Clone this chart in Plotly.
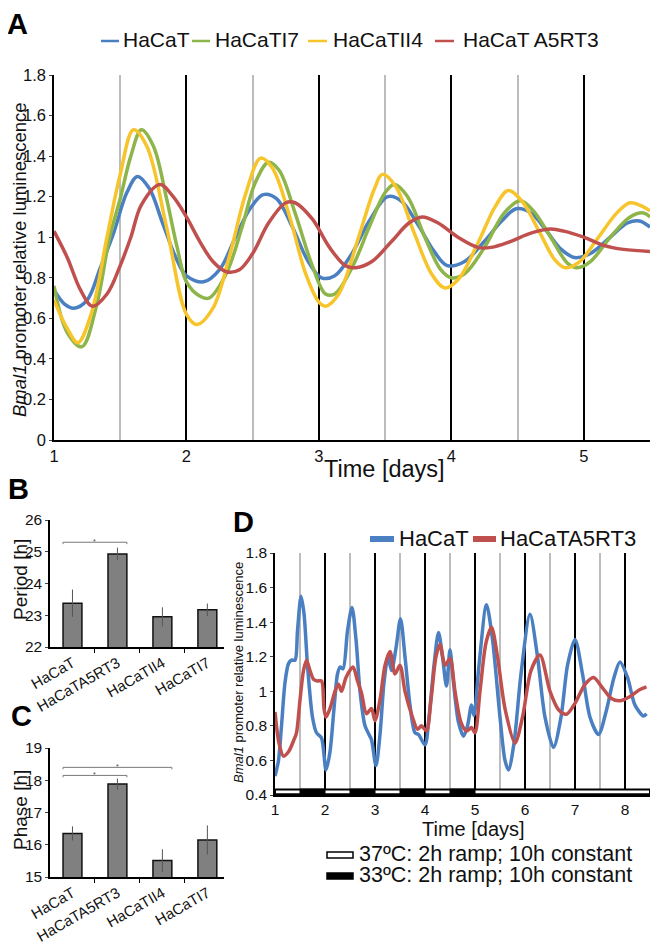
import plotly.graph_objects as go

# page body has an 8px margin: the figure fills the window from (8, 8)
W, H = 650, 936
OFF = 8
FONT = "Liberation Sans, Arial, sans-serif"


def fx(p):
    return (p - OFF) / W


def fy(p):
    return 1 - (p - OFF) / H


# ---------------- Panel A data (Bmal1 relative luminescence) ----------------
a_hacat_d = [1.0, 1.08, 1.15, 1.25, 1.35, 1.45, 1.55, 1.63, 1.72, 1.82, 1.92, 2.0, 2.13, 2.25, 2.37,
             2.48, 2.58, 2.68, 2.8, 2.92, 3.02, 3.12, 3.25, 3.38, 3.52, 3.62, 3.75, 3.87, 3.97, 4.1,
             4.25, 4.38, 4.49, 4.6, 4.72, 4.83, 4.93, 5.05, 5.2, 5.33, 5.42, 5.5]
a_hacat_v = [0.74, 0.67, 0.65, 0.69, 0.85, 1.02, 1.22, 1.30, 1.24, 1.07, 0.90, 0.81, 0.78, 0.84, 1.00,
             1.14, 1.21, 1.19, 1.05, 0.88, 0.80, 0.81, 0.92, 1.08, 1.20, 1.18, 1.06, 0.93, 0.86, 0.88,
             0.98, 1.08, 1.14, 1.12, 1.03, 0.94, 0.90, 0.92, 1.00, 1.07, 1.08, 1.05]

a_ti7_d = [1.0, 1.1, 1.21, 1.32, 1.42, 1.5, 1.58, 1.66, 1.75, 1.85, 1.93, 2.0, 2.1, 2.17, 2.3, 2.42,
           2.52, 2.62, 2.7, 2.82, 2.95, 3.05, 3.12, 3.25, 3.38, 3.5, 3.57, 3.67, 3.8, 3.92, 4.0, 4.1,
           4.25, 4.4, 4.52, 4.62, 4.75, 4.88, 4.95, 5.05, 5.2, 5.35, 5.45, 5.5]
a_ti7_v = [0.76, 0.53, 0.46, 0.66, 1.00, 1.19, 1.40, 1.53, 1.45, 1.19, 0.95, 0.78, 0.71, 0.70, 0.82, 1.05,
           1.27, 1.37, 1.33, 1.12, 0.86, 0.72, 0.72, 0.85, 1.05, 1.22, 1.26, 1.20, 1.00, 0.84, 0.80, 0.82,
           0.95, 1.12, 1.18, 1.13, 1.00, 0.87, 0.85, 0.88, 1.00, 1.10, 1.12, 1.10]

a_tii4_d = [1.0, 1.1, 1.18, 1.28, 1.4, 1.5, 1.6, 1.7, 1.85, 2.0, 2.08, 2.2, 2.33, 2.45, 2.56, 2.65,
            2.78, 2.9, 3.0, 3.05, 3.15, 3.3, 3.42, 3.48, 3.58, 3.72, 3.85, 3.95, 4.05, 4.2, 4.33, 4.43,
            4.53, 4.67, 4.78, 4.86, 4.97, 5.1, 5.25, 5.35, 5.45, 5.5]
a_tii4_v = [0.69, 0.55, 0.48, 0.62, 1.00, 1.31, 1.53, 1.45, 1.05, 0.62, 0.57, 0.65, 0.92, 1.22, 1.39, 1.34,
            1.10, 0.82, 0.68, 0.66, 0.72, 1.00, 1.24, 1.31, 1.25, 1.02, 0.82, 0.75, 0.79, 0.97, 1.15, 1.23,
            1.18, 1.02, 0.89, 0.85, 0.88, 0.99, 1.12, 1.17, 1.15, 1.13]

a_a5_d = [1.0, 1.1, 1.2, 1.29, 1.4, 1.5, 1.58, 1.66, 1.8, 1.9, 2.0, 2.1, 2.2, 2.3, 2.4, 2.5, 2.62,
          2.75, 2.82, 2.95, 3.08, 3.2, 3.28, 3.4, 3.55, 3.68, 3.78, 3.9, 4.05, 4.2, 4.3, 4.45, 4.6,
          4.75, 4.85, 5.0, 5.15, 5.3, 5.5]
a_a5_v = [1.03, 0.90, 0.74, 0.66, 0.72, 0.86, 1.00, 1.16, 1.26, 1.20, 1.10, 0.98, 0.88, 0.83, 0.84, 0.92, 1.07,
          1.17, 1.17, 1.09, 0.95, 0.86, 0.85, 0.88, 0.98, 1.07, 1.10, 1.07, 1.00, 0.95, 0.95, 0.98, 1.02,
          1.04, 1.03, 1.00, 0.96, 0.94, 0.93]

a_names = ["HaCaT", "HaCaTI7", "HaCaTII4", "HaCaT A5RT3"]
a_colors = ["#4a7fc1", "#8db54a", "#f7c52b", "#c0504d"]

# ---------------- Panel B / C data ----------------
cell_lines = ["HaCaT", "HaCaTA5RT3", "HaCaTII4", "HaCaTI7"]
period_h = [23.38, 24.93, 22.95, 23.17]
period_err = [0.43, 0.20, 0.30, 0.20]
phase_h = [16.35, 17.88, 15.51, 16.15]
phase_err = [0.22, 0.17, 0.35, 0.45]
# significance brackets: (from index, to index, height)
period_sig = [(0, 1, 25.3)]
phase_sig = [(0, 2, 18.4), (0, 1, 18.15)]

# ---------------- Panel D data ----------------
d_hacat_d = [1.0, 1.07, 1.13, 1.2, 1.27, 1.33, 1.4, 1.45, 1.52, 1.58, 1.65, 1.75, 1.83, 1.93, 2.02,
             2.1, 2.18, 2.25, 2.3, 2.36, 2.45, 2.54, 2.62, 2.7, 2.8, 2.88, 2.93, 3.02, 3.1, 3.18, 3.26,
             3.33, 3.42, 3.51, 3.6, 3.7, 3.8, 3.87, 4.0, 4.08, 4.18, 4.27, 4.35, 4.43, 4.5, 4.57, 4.67,
             4.77, 4.85, 4.93, 4.98, 5.08, 5.23, 5.35, 5.5, 5.6, 5.67, 5.78, 5.92, 6.1, 6.25, 6.4, 6.57,
             6.72, 6.85, 7.0, 7.15, 7.3, 7.47, 7.62, 7.78, 7.9, 8.05, 8.2, 8.37, 8.43]
d_hacat_v = [0.51, 0.60, 0.80, 1.05, 1.16, 1.18, 1.18, 1.35, 1.55, 1.45, 1.15, 0.85, 0.76, 0.73, 0.545,
             0.65, 0.90, 1.10, 1.14, 1.13, 1.35, 1.485, 1.30, 1.00, 0.80, 0.75, 0.72, 0.57, 0.75, 1.05, 1.20,
             1.12, 1.25, 1.42, 1.20, 0.92, 0.76, 0.75, 0.69, 0.85, 1.15, 1.34, 1.20, 1.03, 1.24, 1.05, 0.82,
             0.74, 0.80, 0.92, 0.86, 1.15, 1.50, 1.30, 0.85, 0.60, 0.545, 0.70, 1.10, 1.445, 1.20, 0.85, 0.675,
             0.85, 1.15, 1.30, 1.10, 0.85, 0.75, 0.88, 1.08, 1.17, 1.08, 0.92, 0.857, 0.87]

d_a5_d = [1.0, 1.08, 1.17, 1.27, 1.38, 1.43, 1.5, 1.57, 1.63, 1.7, 1.77, 1.85, 1.93, 1.98, 2.02, 2.1,
          2.2, 2.27, 2.33, 2.42, 2.56, 2.65, 2.73, 2.83, 2.93, 3.0, 3.1, 3.2, 3.3, 3.4, 3.5, 3.6, 3.75,
          3.85, 3.93, 4.03, 4.12, 4.22, 4.3, 4.4, 4.5, 4.6, 4.72, 4.83, 4.93, 5.0, 5.1, 5.22, 5.33, 5.45,
          5.6, 5.8, 5.95, 6.12, 6.3, 6.5, 6.68, 6.83, 7.0, 7.2, 7.37, 7.55, 7.72, 7.9, 8.1, 8.3, 8.43]
d_a5_v = [0.88, 0.70, 0.625, 0.65, 0.72, 0.76, 0.95, 1.12, 1.18, 1.12, 1.07, 1.06, 1.06, 0.90, 0.85, 0.90,
          1.00, 1.04, 1.00, 1.08, 1.14, 1.06, 0.99, 0.87, 0.90, 0.83, 0.95, 1.15, 1.23, 1.10, 1.15, 1.00, 0.85,
          0.78, 0.80, 0.77, 0.95, 1.20, 1.27, 1.15, 1.19, 1.00, 0.82, 0.77, 0.79, 0.76, 1.00, 1.28, 1.37, 1.20,
          0.90, 0.70, 0.85, 1.12, 1.21, 1.00, 0.89, 0.867, 0.93, 1.04, 1.08, 1.02, 0.96, 0.945, 0.97, 1.01, 1.025]

d_names = ["HaCaT", "HaCaTA5RT3"]
d_colors = ["#4a7fc1", "#c0504d"]

# temperature schedule (days): whole experiment span and 33 C phases
temp_span = [1.0, 8.5]
cold_start = [1.5, 2.5, 3.5, 4.5]
cold_end = [2.0, 3.0, 4.0, 5.0]
temp_labels = ["37ºC: 2h ramp; 10h constant", "33ºC: 2h ramp; 10h constant"]

fig = go.Figure()

# ---- Panel A traces
for d, v, c, n in zip([a_hacat_d, a_ti7_d, a_tii4_d, a_a5_d], [a_hacat_v, a_ti7_v, a_tii4_v, a_a5_v],
                      a_colors, a_names):
    fig.add_trace(go.Scatter(x=d, y=v, mode="lines", name=n, xaxis="x", yaxis="y",
                             line=dict(color=c, width=3.5, shape="spline", smoothing=1.0)))

# ---- Panel B / C bars
xs = list(range(len(cell_lines)))
fig.add_trace(go.Bar(x=xs, y=period_h, xaxis="x2", yaxis="y2", width=0.42,
                     marker=dict(color="#808080", line=dict(color="#111111", width=1.5)),
                     error_y=dict(type="data", array=period_err, color="#555555", thickness=1, width=0)))
fig.add_trace(go.Bar(x=xs, y=phase_h, xaxis="x3", yaxis="y3", width=0.42,
                     marker=dict(color="#808080", line=dict(color="#111111", width=1.5)),
                     error_y=dict(type="data", array=phase_err, color="#555555", thickness=1, width=0)))

# ---- Panel D traces
for d, v, c, n in zip([d_hacat_d, d_a5_d], [d_hacat_v, d_a5_v], d_colors, d_names):
    fig.add_trace(go.Scatter(x=d, y=v, mode="lines", name=n, xaxis="x4", yaxis="y4",
                             line=dict(color=c, width=3.5, shape="spline", smoothing=0.8)))

shapes = []
annotations = []

# significance brackets
for sig, xr, yr in [(period_sig, "x2", "y2"), (phase_sig, "x3", "y3")]:
    for i0, i1, h in sig:
        a, b = i0 - 0.21, i1 + 0.21
        shapes.append(dict(type="path", xref=xr, yref=yr,
                           path=f"M {a},{h - 0.06} L {a},{h} L {b},{h} L {b},{h - 0.06}",
                           line=dict(color="#777777", width=1)))
        annotations.append(dict(x=(a + b) / 2, y=h, xref=xr, yref=yr, text="*", showarrow=False,
                                xanchor="center", yanchor="bottom", yshift=-5,
                                font=dict(size=7, color="#444444", family=FONT)))

# temperature bar in D
shapes.append(dict(type="rect", xref="x4", yref="y4", x0=temp_span[0], x1=temp_span[1], y0=0.405, y1=0.432,
                   fillcolor="white", line=dict(color="black", width=2)))
for s, e in zip(cold_start, cold_end):
    shapes.append(dict(type="rect", xref="x4", yref="y4", x0=s, x1=e, y0=0.403, y1=0.434,
                       fillcolor="black", line=dict(color="black", width=1)))

# legend for A (manual)
leg_a_line = [(101, 119), (192, 210), (308, 327), (435, 454)]
leg_a_text = [121, 213, 331, 461]
for (l0, l1), tx, c, n in zip(leg_a_line, leg_a_text, a_colors, a_names):
    shapes.append(dict(type="line", xref="paper", yref="paper", x0=fx(l0), x1=fx(l1), y0=fy(41), y1=fy(41),
                       line=dict(color=c, width=2.5)))
    annotations.append(dict(x=fx(tx), y=fy(40), xref="paper", yref="paper", text=n, showarrow=False,
                            xanchor="left", yanchor="middle", font=dict(size=21, family=FONT, color="#111")))

# legend for D (manual)
leg_d_line = [(370, 394), (473, 496)]
leg_d_text = [397, 498]
for (l0, l1), tx, c, n in zip(leg_d_line, leg_d_text, d_colors, d_names):
    shapes.append(dict(type="line", xref="paper", yref="paper", x0=fx(l0), x1=fx(l1), y0=fy(539), y1=fy(539),
                       line=dict(color=c, width=6)))
    annotations.append(dict(x=fx(tx), y=fy(538), xref="paper", yref="paper", text=n, showarrow=False,
                            xanchor="left", yanchor="middle", font=dict(size=22, family=FONT, color="#111")))

# temperature legend
for i, (lab, fill) in enumerate(zip(temp_labels, ["white", "black"])):
    yc = 855 + i * 21
    shapes.append(dict(type="rect", xref="paper", yref="paper", x0=fx(327), x1=fx(353), y0=fy(yc + 3),
                       y1=fy(yc - 3), fillcolor=fill, line=dict(color="black", width=1.5)))
    annotations.append(dict(x=fx(357), y=fy(yc - 1), xref="paper", yref="paper", text=lab, showarrow=False,
                            xanchor="left", yanchor="middle", font=dict(size=21.5, family=FONT, color="#111")))

# panel letters
for t, x, y in [("A", 17, 24), ("B", 18, 489), ("C", 21, 716), ("D", 243, 522)]:
    annotations.append(dict(x=fx(x), y=fy(y), xref="paper", yref="paper", text=f"<b>{t}</b>", showarrow=False,
                            xanchor="center", yanchor="middle", font=dict(size=29, family=FONT, color="black")))


def vtitle(text, x, y, size):
    return dict(x=fx(x), y=fy(y), xref="paper", yref="paper", text=text, textangle=-90, showarrow=False,
                xanchor="center", yanchor="middle", font=dict(size=size, family=FONT, color="#111"))


def htitle(text, x, y, size):
    return dict(x=fx(x), y=fy(y), xref="paper", yref="paper", text=text, showarrow=False,
                xanchor="center", yanchor="middle", font=dict(size=size, family=FONT, color="#111"))


annotations += [
    vtitle("<i>Bmal1</i> promoter relative luminescence", 20, 260, 18.5),
    htitle("Time [days]", 384, 469, 23.5),
    vtitle("Period [h]", 20, 580, 19),
    vtitle("Phase [h]", 20, 810, 19),
    vtitle("<i>Bmal1</i> promoter relative luminescence", 238, 673, 13),
    htitle("Time [days]", 473, 829, 20),
]

tickfont_a = dict(size=16.5, family=FONT, color="#111")
tickfont_b = dict(size=15.5, family=FONT, color="#111")

bar_x = dict(range=[-0.5, 3.37], tickmode="array", tickvals=xs, ticktext=cell_lines, tickangle=-30,
             ticks="", showline=True, linecolor="black", linewidth=1.5, showgrid=False, zeroline=False,
             automargin=False, tickfont=dict(size=15, family=FONT, color="#111"),
             minor=dict(tickmode="array", tickvals=[0.5, 1.5, 2.5], ticks="outside", ticklen=4,
                        tickcolor="black", showgrid=False))

common_y = dict(showgrid=False, showline=True, linecolor="black", linewidth=1.5, ticks="outside", ticklen=3,
                zeroline=False, automargin=False)

fig.update_layout(
    width=W, height=H, autosize=False, showlegend=False,
    margin=dict(l=0, r=0, t=0, b=0, pad=0, autoexpand=False),
    paper_bgcolor="white", plot_bgcolor="white",
    font=dict(family=FONT),
    xaxis=dict(domain=[fx(54), fx(650)], anchor="y", range=[1, 5.5], tick0=1, dtick=1,
               showgrid=True, gridcolor="black", gridwidth=1.5,
               minor=dict(dtick=0.5, tick0=1, showgrid=True, gridcolor="#bdbdbd", gridwidth=1.5),
               showline=True, linecolor="black", linewidth=1.5, ticks="", ticklen=0, zeroline=False,
               automargin=False, tickfont=tickfont_a),
    yaxis=dict(domain=[fy(440), fy(75)], anchor="x", range=[0, 1.8], dtick=0.2, tickfont=tickfont_a, **common_y),
    xaxis2=dict(domain=[fx(50), fx(224)], anchor="y2", **bar_x),
    yaxis2=dict(domain=[fy(647), fy(520)], anchor="x2", range=[22, 26], dtick=1, tickfont=tickfont_b, **common_y),
    xaxis3=dict(domain=[fx(50), fx(224)], anchor="y3", **bar_x),
    yaxis3=dict(domain=[fy(877), fy(748)], anchor="x3", range=[15, 19], dtick=1, tickfont=tickfont_b, **common_y),
    xaxis4=dict(domain=[fx(275), fx(650)], anchor="y4", range=[1, 8.5], tick0=1, dtick=1,
                showgrid=True, gridcolor="black", gridwidth=1.5,
                minor=dict(dtick=0.5, tick0=1, showgrid=True, gridcolor="#bdbdbd", gridwidth=1.5),
                showline=True, linecolor="black", linewidth=1.5, ticks="", ticklen=0, zeroline=False,
                automargin=False, tickfont=tickfont_b),
    yaxis4=dict(domain=[fy(795), fy(553)], anchor="x4", range=[0.4, 1.8], dtick=0.2, tickfont=tickfont_b,
                **common_y),
    shapes=shapes, annotations=annotations,
)

fig.write_html("out.html")
